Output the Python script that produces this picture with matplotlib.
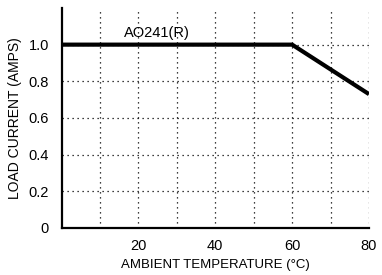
import matplotlib.pyplot as plt

# derating curve
temp = [0, 60, 80]
current = [1.0, 1.0, 0.73]
xticks = [20, 40, 60, 80]
yticks = [0, 0.2, 0.4, 0.6, 0.8, 1.0]
ytick_labels = ["0", "0.2", "0.4", "0.6", "0.8", "1.0"]

plt.rcParams['font.family'] = ['Liberation Sans', 'DejaVu Sans']

fig = plt.figure(figsize=(3.82, 2.75), dpi=100)
ax = fig.add_axes([0.161, 0.171, 0.805, 0.80])

ax.plot(temp, current, color='black', linewidth=3.0, solid_capstyle='butt', zorder=3)
ax.text(16.3, 1.025, "AO241(R)", fontsize=10.5, va='bottom', ha='left')

ax.set_xlim(0, 80)
ax.set_ylim(0, 1.2)
ax.set_xticks(range(10, 81, 10))
ax.set_xticklabels([])
for x in xticks:
    ax.text(x, -0.1, str(x), fontsize=10.5, ha='center', va='center')
ax.set_yticks(yticks)
ax.set_yticklabels(ytick_labels, fontsize=10.5)
ax.tick_params(length=0, pad=9)

ax.grid(True, linestyle=(0, (1, 3)), color='black', linewidth=0.9)
ax.spines['top'].set_visible(False)
ax.spines['right'].set_visible(False)
ax.spines['left'].set_linewidth(1.6)
ax.spines['bottom'].set_linewidth(1.6)

ax.set_xlabel("AMBIENT TEMPERATURE (°C)", fontsize=9.5)
ax.set_ylabel("LOAD CURRENT (AMPS)", fontsize=10)
ax.yaxis.set_label_coords(-0.13, 0.5)
ax.xaxis.set_label_coords(0.5, -0.14)

fig.savefig("out.png", dpi=100)
